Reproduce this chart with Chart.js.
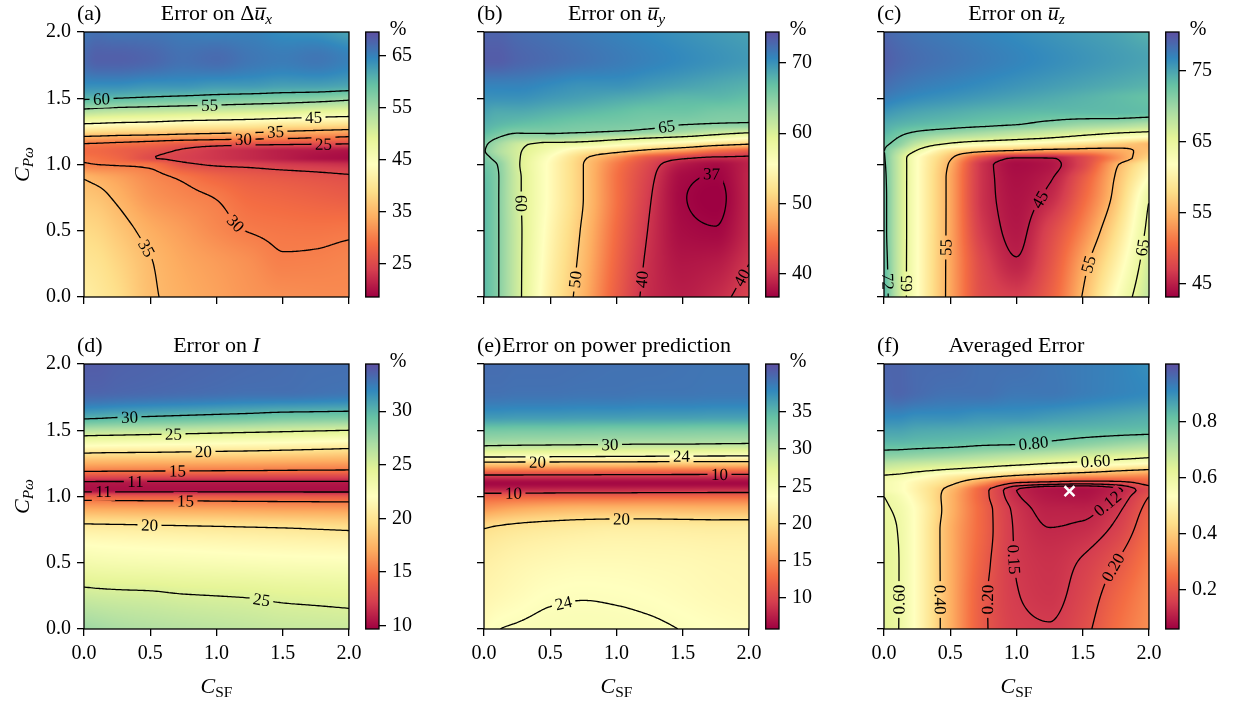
<!DOCTYPE html>
<html>
<head>
<meta charset="utf-8">
<script src="https://cdn.jsdelivr.net/npm/chart.js@4.4.1/dist/chart.umd.min.js"></script>
<style>
  html, body { margin: 0; padding: 0; background: #fff; }
  body { width: 1235px; height: 704px; position: relative; overflow: hidden; }
  canvas { position: absolute; }
</style>
</head>
<body>
<script>
// grid where the error maps were read (C_SF across, C_Pw up)
const xGrid = [0, 0.1, 0.25, 0.5, 0.75, 1.0, 1.25, 1.5, 1.75, 2.0];
const yGrid = [0, 0.25, 0.5, 0.75, 0.9, 1.0, 1.05, 1.1, 1.15, 1.2, 1.25, 1.3, 1.4, 1.5, 1.6, 1.8, 2.0];
const axisTicks = [0, 0.5, 1.0, 1.5, 2.0];

// (a) error on delta u_x, one row per yGrid value
const errUx = [
  [41.5, 40.5, 39, 35.5, 34, 33, 32, 31.5, 31.2, 31],
  [40, 39.5, 38, 35.2, 33.5, 32.5, 31.5, 30.3, 30.4, 30.7],
  [38.5, 38, 36.5, 34, 32.5, 31, 29.9, 29.5, 29.4, 29.6],
  [36.5, 36, 34.5, 32, 30.8, 29.9, 28.5, 28, 27.5, 27],
  [34.8, 34, 33, 31, 29.6, 28, 27, 26.5, 26, 25.5],
  [30.3, 30, 29.7, 29.2, 25.8, 24.6, 24.2, 23.5, 23, 22.5],
  [29.5, 29, 28, 25.2, 24, 23, 22, 21, 20, 19.5],
  [28.5, 28.3, 27.5, 26, 24.5, 23, 22, 21, 20.5, 20],
  [29.6, 29.4, 29, 28, 26.5, 25.8, 25.3, 25, 24.7, 24.5],
  [33.7, 33.5, 33, 32.5, 32, 31.5, 31, 30.5, 29.8, 29.1],
  [39.5, 39, 38.5, 38, 37, 36.5, 36, 35, 34.3, 33.6],
  [44.3, 44, 43.5, 43, 42, 41.5, 41, 40, 39.5, 38.8],
  [53.5, 53, 52.5, 52, 51.5, 51, 50.5, 50, 49, 48.4],
  [60.5, 60.3, 60, 59.5, 59, 58.5, 58, 57.5, 57, 56],
  [64, 64, 64, 63.5, 63.5, 63, 63, 62.5, 62.5, 62],
  [67, 68, 68, 67.5, 66.5, 67, 66, 65.5, 66, 65],
  [66, 66.5, 66, 66, 65.5, 65, 65, 64, 63.5, 62]
];
// (b) error on u_y
const errUy = [
  [67.5, 65.3, 61, 53.5, 48.5, 43, 39.3, 38.5, 39.3, 41],
  [67.5, 65.3, 61, 54, 49, 43.5, 39.5, 38, 38.3, 40],
  [67.5, 65.3, 61, 54.5, 49.5, 44, 39.8, 37.4, 37.1, 39.2],
  [67.5, 65.3, 60.8, 55, 50, 44.5, 40.2, 37.1, 36.6, 39],
  [67.2, 65.3, 60.8, 55, 50, 44.5, 40.6, 37.3, 36.9, 39],
  [66.5, 65, 60.5, 55, 50, 45, 41.2, 38.2, 37.4, 38.8],
  [66, 64, 60.5, 55.5, 50.5, 46.5, 42.5, 40.5, 39.5, 39.5],
  [65.2, 63, 60.5, 57, 53, 51, 48.5, 46.5, 44, 42.5],
  [65.5, 63.5, 61, 58.5, 58, 56.3, 54.5, 53, 51, 49.5],
  [66.5, 65, 63.5, 63.5, 62.3, 61.2, 60, 59, 57.5, 55.6],
  [67.5, 66.5, 65.5, 65.5, 65.3, 65, 64.5, 63.5, 62, 61],
  [68, 67.5, 67, 66.5, 66, 65.8, 65.5, 65, 64.8, 64.7],
  [69, 68.5, 68.5, 68, 67.5, 67, 66.5, 66.5, 66, 65.8],
  [70, 70, 70, 69.5, 69, 68.5, 68, 67.5, 67.5, 67],
  [71, 71, 71, 70.5, 70, 70, 69.5, 69, 68.5, 68],
  [73.5, 73.5, 73, 72.5, 72, 71.5, 71, 70.5, 70, 69.5],
  [73, 73, 72.5, 72, 71.5, 71, 70.5, 70, 69.5, 69]
];
// (c) error on u_z
const errUz = [
  [74, 68, 62, 54, 48, 47, 49.5, 55.2, 62, 68],
  [73.5, 68, 62, 54, 47.5, 45.2, 48.5, 54, 60, 67],
  [73, 68, 62, 54, 46.5, 44.5, 47.5, 52, 58, 66],
  [73, 68, 62, 54, 46, 44.2, 45.5, 50, 56, 64.8],
  [72.8, 68, 62, 54, 46, 44, 44.8, 49, 55.3, 62],
  [72.5, 68, 62, 54.5, 46, 43.8, 44.3, 47.5, 54.5, 60],
  [72.3, 68, 62, 55.5, 48, 44.8, 44.9, 47.5, 52.5, 57.5],
  [72.1, 69, 64.5, 58, 55.5, 54, 53, 53, 54, 56],
  [72.5, 71, 67.5, 64, 62, 61, 59.5, 58, 56.5, 55.2],
  [73.2, 72, 70, 68, 67, 66, 65, 63.5, 62, 60.5],
  [74, 73, 72, 71, 70, 69, 68, 67, 66, 65.2],
  [74.5, 74, 73.5, 73, 72.5, 72, 71, 70, 69.5, 68.5],
  [76, 75.5, 75, 74.5, 74, 73.7, 73.5, 73.5, 73.5, 73.3],
  [77.5, 77, 76.5, 76, 75.5, 75, 74.5, 74, 73.5, 73],
  [78.5, 78, 77.5, 77, 76.5, 76, 75.5, 75, 74.5, 74],
  [79.5, 79, 78.5, 78, 77.5, 77, 76.5, 76, 75.5, 75],
  [79, 78.5, 78, 77.5, 77, 76.5, 76, 75.5, 75, 74]
];
// (d) error on I
const errI = [
  [27.5, 27.3, 27, 26.7, 26.5, 26.3, 26.1, 25.9, 25.8, 25.7],
  [25.6, 25.5, 25.4, 25.3, 25.1, 25.0, 24.9, 24.7, 24.6, 24.5],
  [23.2, 23.1, 23.0, 22.9, 22.8, 22.7, 22.6, 22.5, 22.45, 22.4],
  [20.8, 20.75, 20.7, 20.6, 20.5, 20.4, 20.3, 20.2, 20.05, 19.9],
  [17.2, 17.15, 17.1, 17.0, 16.95, 16.9, 16.8, 16.7, 16.65, 16.6],
  [13.8, 13.8, 13.75, 13.7, 13.7, 13.65, 13.6, 13.6, 13.55, 13.5],
  [10.3, 10.3, 10.3, 10.3, 10.3, 10.3, 10.3, 10.3, 10.3, 10.3],
  [10.6, 10.6, 10.6, 10.6, 10.6, 10.6, 10.6, 10.6, 10.6, 10.6],
  [13.0, 12.95, 12.9, 12.85, 12.8, 12.75, 12.7, 12.65, 12.6, 12.6],
  [15.5, 15.45, 15.4, 15.35, 15.3, 15.25, 15.2, 15.1, 15.05, 15.0],
  [17.2, 17.15, 17.1, 17.0, 16.95, 16.9, 16.8, 16.7, 16.6, 16.5],
  [19.0, 18.9, 18.85, 18.8, 18.7, 18.6, 18.5, 18.3, 18.15, 18.0],
  [22.8, 22.7, 22.6, 22.45, 22.3, 22.1, 21.95, 21.8, 21.55, 21.3],
  [26.6, 26.5, 26.4, 26.2, 26.0, 25.8, 25.6, 25.4, 25.2, 25.0],
  [30.4, 30.3, 30.1, 29.9, 29.7, 29.5, 29.3, 29.0, 28.9, 28.8],
  [33.5, 33.5, 33.4, 33.3, 33.2, 33.1, 33.0, 33.0, 32.9, 32.8],
  [33.8, 33.8, 33.6, 33.5, 33.4, 33.3, 33.2, 33.1, 33.0, 33.0]
];
// (e) error on power prediction
const errPower = [
  [23.3, 23.95, 24.2, 24.5, 24.6, 24.5, 24.3, 23.95, 23.6, 23.3],
  [22.5, 22.8, 23.2, 23.75, 23.9, 23.8, 23.6, 23.3, 23.0, 22.8],
  [21.8, 22.1, 22.5, 22.9, 23.1, 23.1, 23.0, 22.9, 22.7, 22.6],
  [20.1, 20.5, 20.9, 21.3, 21.6, 21.8, 21.8, 21.7, 21.6, 21.6],
  [15.5, 16.0, 16.6, 17.2, 17.5, 17.5, 17.5, 17.4, 17.3, 17.3],
  [12.0, 12.0, 12.1, 12.2, 12.3, 12.3, 12.4, 12.4, 12.5, 12.5],
  [8.0, 8.0, 8.1, 8.2, 8.3, 8.3, 8.4, 8.4, 8.5, 8.5],
  [6.3, 6.3, 6.3, 6.3, 6.3, 6.3, 6.3, 6.3, 6.3, 6.3],
  [9.0, 9.0, 9.0, 8.9, 8.9, 8.8, 8.8, 8.7, 8.7, 8.6],
  [13.8, 13.8, 13.7, 13.7, 13.6, 13.6, 13.5, 13.5, 13.4, 13.3],
  [19.0, 19.0, 18.9, 18.9, 18.8, 18.8, 18.7, 18.7, 18.6, 18.6],
  [24.2, 24.2, 24.1, 24.0, 23.9, 23.8, 23.7, 23.6, 23.55, 23.5],
  [30.8, 30.7, 30.6, 30.5, 30.4, 30.3, 30.2, 30.2, 30.1, 30.0],
  [33.5, 33.5, 33.4, 33.4, 33.3, 33.2, 33.2, 33.1, 33.0, 33.0],
  [36.8, 36.8, 36.7, 36.7, 36.6, 36.6, 36.5, 36.5, 36.4, 36.4],
  [39.3, 39.3, 39.2, 39.2, 39.1, 39.1, 39.0, 39.0, 38.9, 38.9],
  [39.5, 39.5, 39.4, 39.4, 39.3, 39.2, 39.2, 39.1, 39.0, 39.0]
];
// (f) averaged error
const errAvg = [
  [0.64, 0.605, 0.52, 0.35, 0.21, 0.16, 0.153, 0.185, 0.25, 0.30],
  [0.63, 0.605, 0.52, 0.35, 0.21, 0.152, 0.14, 0.17, 0.23, 0.29],
  [0.63, 0.605, 0.52, 0.35, 0.22, 0.148, 0.135, 0.155, 0.20, 0.27],
  [0.62, 0.6, 0.52, 0.35, 0.23, 0.145, 0.121, 0.127, 0.16, 0.24],
  [0.61, 0.59, 0.52, 0.36, 0.23, 0.14, 0.11, 0.11, 0.14, 0.22],
  [0.6, 0.57, 0.5, 0.36, 0.22, 0.125, 0.095, 0.09, 0.12, 0.2],
  [0.57, 0.55, 0.49, 0.37, 0.22, 0.12, 0.09, 0.085, 0.11, 0.18],
  [0.57, 0.55, 0.5, 0.42, 0.3, 0.19, 0.17, 0.16, 0.17, 0.22],
  [0.59, 0.58, 0.55, 0.48, 0.43, 0.37, 0.33, 0.3, 0.29, 0.28],
  [0.65, 0.64, 0.62, 0.59, 0.56, 0.52, 0.49, 0.46, 0.42, 0.39],
  [0.70, 0.69, 0.68, 0.665, 0.645, 0.625, 0.6, 0.58, 0.555, 0.53],
  [0.76, 0.755, 0.745, 0.73, 0.71, 0.69, 0.67, 0.65, 0.63, 0.61],
  [0.83, 0.83, 0.825, 0.82, 0.81, 0.805, 0.79, 0.77, 0.75, 0.73],
  [0.87, 0.87, 0.86, 0.855, 0.85, 0.84, 0.835, 0.83, 0.825, 0.82],
  [0.91, 0.91, 0.9, 0.9, 0.89, 0.89, 0.88, 0.87, 0.86, 0.85],
  [0.96, 0.97, 0.96, 0.95, 0.95, 0.94, 0.94, 0.93, 0.92, 0.91],
  [0.97, 0.97, 0.96, 0.96, 0.95, 0.95, 0.94, 0.93, 0.92, 0.9]
];

// contour levels drawn on each map
const levelsUx = [25, 30, 35, 45, 55, 60];
const levelsUy = [37, 40, 50, 60, 65];
const levelsUz = [45, 55, 65, 72];
const levelsI = [11, 15, 20, 25, 30];
const levelsPower = [10, 20, 24, 30];
const levelsAvg = [0.12, 0.15, 0.20, 0.40, 0.60, 0.80];

// colour bar limits and ticks
const rangeUx = [18.6, 69.5], cbTicksUx = [25, 35, 45, 55, 65];
const rangeUy = [36.7, 74.4], cbTicksUy = [40, 50, 60, 70];
const rangeUz = [43.1, 80.5], cbTicksUz = [45, 55, 65, 75];
const rangeI = [9.7, 34.4], cbTicksI = [10, 15, 20, 25, 30];
const rangePower = [5.85, 41.4], cbTicksPower = [10, 15, 20, 25, 30, 35];
const rangeAvg = [0.06, 1.006], cbTicksAvg = [0.2, 0.4, 0.6, 0.8];

// best setting marked on (f)
const optimum = [1.4, 1.04];

const FONT = "'Liberation Serif', 'Times New Roman', serif";
const SPECTRAL = ['#9e0142', '#d53e4f', '#f46d43', '#fdae61', '#fee08b', '#ffffbf',
  '#e6f598', '#abdda4', '#66c2a5', '#3288bd', '#5e4fa2'];
const stopRGB = SPECTRAL.map(h => [1, 3, 5].map(k => parseInt(h.slice(k, k + 2), 16)));

function cmap(t) {
  t = Math.min(1, Math.max(0, t)) * (stopRGB.length - 1);
  const i = Math.min(stopRGB.length - 2, Math.floor(t));
  const f = t - i, a = stopRGB[i], b = stopRGB[i + 1];
  return [a[0] + (b[0] - a[0]) * f, a[1] + (b[1] - a[1]) * f, a[2] + (b[2] - a[2]) * f];
}

function cellIndex(arr, v) {
  let i = 0;
  while (i < arr.length - 2 && v > arr[i + 1]) i++;
  return i;
}

// shape-preserving cubic (pchip) slopes, used only to shade between the read values
function pchipSlopes(xs, ys) {
  const n = xs.length, h = [], d = [], m = new Array(n);
  for (let k = 0; k < n - 1; k++) { h[k] = xs[k + 1] - xs[k]; d[k] = (ys[k + 1] - ys[k]) / h[k]; }
  m[0] = d[0]; m[n - 1] = d[n - 2];
  for (let k = 1; k < n - 1; k++) {
    if (d[k - 1] * d[k] <= 0) m[k] = 0;
    else {
      const w1 = 2 * h[k] + h[k - 1], w2 = h[k] + 2 * h[k - 1];
      m[k] = (w1 + w2) / (w1 / d[k - 1] + w2 / d[k]);
    }
  }
  return m;
}

function hermite(xs, ys, m, x) {
  const k = cellIndex(xs, x), h = xs[k + 1] - xs[k];
  const t = Math.min(1, Math.max(0, (x - xs[k]) / h)), t2 = t * t, t3 = t2 * t;
  return (2 * t3 - 3 * t2 + 1) * ys[k] + (t3 - 2 * t2 + t) * h * m[k]
    + (-2 * t3 + 3 * t2) * ys[k + 1] + (t3 - t2) * h * m[k + 1];
}

// marching squares on the pixel field
function marching(vals, W, H, lev, L, T) {
  const st = 2, out = [];
  for (let j = 0; j + st < H; j += st) {
    for (let i = 0; i + st < W; i += st) {
      const v0 = vals[j * W + i], v1 = vals[j * W + i + st];
      const v2 = vals[(j + st) * W + i + st], v3 = vals[(j + st) * W + i];
      const x0 = L + i + 0.5, y0 = T + j + 0.5, x1 = x0 + st, y1 = y0 + st;
      const pts = [];
      const edge = (va, vb, xa, ya, xb, yb) => {
        if ((va < lev) !== (vb < lev)) {
          const t = (lev - va) / (vb - va);
          pts.push(xa + (xb - xa) * t, ya + (yb - ya) * t);
        }
      };
      edge(v0, v1, x0, y0, x1, y0);
      edge(v1, v2, x1, y0, x1, y1);
      edge(v2, v3, x1, y1, x0, y1);
      edge(v3, v0, x0, y1, x0, y0);
      if (pts.length >= 4) out.push(pts.slice(0, 4));
      if (pts.length === 8) out.push(pts.slice(4, 8));
    }
  }
  return out;
}

function rich(ctx, parts, x, y, size, align) {
  const fontOf = pt => `${pt.it ? 'italic ' : ''}${pt.sub ? size * 0.7 : size}px ${FONT}`;
  let total = 0;
  const ws = parts.map(pt => { ctx.font = fontOf(pt); const w = ctx.measureText(pt.t).width; total += w; return w; });
  let cx = align === 'center' ? x - total / 2 : x;
  ctx.textAlign = 'left';
  parts.forEach((pt, k) => {
    ctx.font = fontOf(pt);
    ctx.fillText(pt.t, cx, y + (pt.sub ? size * 0.2 : 0));
    if (pt.bar) ctx.fillRect(cx + 1.5, y - size * 0.56, ws[k] - 0.5, 1.2);
    cx += ws[k];
  });
}

const PLOT = 265, colLeft = [84, 484, 884], rowTop = [32, 364];
const yLabel = [{ t: 'C', it: 1 }, { t: 'Pω', it: 1, sub: 1 }];
const xLabel = [{ t: 'C', it: 1 }, { t: 'SF', sub: 1 }];

const panels = [
  { grid: errUx, levels: levelsUx, range: rangeUx, cbTicks: cbTicksUx, unit: '%', tag: '(a)', col: 0, row: 0,
    title: [{ t: 'Error on Δ' }, { t: 'u', it: 1, bar: 1 }, { t: 'x', it: 1, sub: 1 }],
    labels: [[60, 0.13, 1.5], [55, 0.95, 1.45], [45, 1.74, 1.34], [35, 1.45, 1.245], [30, 1.2, 1.185],
      [25, 1.81, 1.155], [30, 1.16, 0.57], [35, 0.47, 0.37]] },
  { grid: errUy, levels: levelsUy, range: rangeUy, cbTicks: cbTicksUy, unit: '%', tag: '(b)', col: 1, row: 0,
    title: [{ t: 'Error on ' }, { t: 'u', it: 1, bar: 1 }, { t: 'y', it: 1, sub: 1 }],
    labels: [[65, 1.38, 1.29], [60, 0.30, 0.71], [50, 0.69, 0.13], [40, 1.19, 0.13], [37, 1.71, 0.93], [40, 1.94, 0.15]] },
  { grid: errUz, levels: levelsUz, range: rangeUz, cbTicks: cbTicksUz, unit: '%', tag: '(c)', col: 2, row: 0,
    title: [{ t: 'Error on ' }, { t: 'u', it: 1, bar: 1 }, { t: 'z', it: 1, sub: 1 }],
    labels: [[72, 0.03, 0.12], [65, 0.17, 0.10], [55, 0.45, 0.38], [45, 1.15, 0.745], [55, 1.53, 0.25], [65, 1.87, 0.38]] },
  { grid: errI, levels: levelsI, range: rangeI, cbTicks: cbTicksI, unit: '%', tag: '(d)', col: 0, row: 1,
    title: [{ t: 'Error on ' }, { t: 'I', it: 1 }],
    labels: [[30, 0.35, 1.6], [25, 0.67, 1.47], [20, 0.9, 1.34], [15, 0.71, 1.19], [11, 0.385, 1.11],
      [11, 0.146, 1.03], [15, 0.76, 0.96], [20, 0.5, 0.78], [25, 1.34, 0.2]] },
  { grid: errPower, levels: levelsPower, range: rangePower, cbTicks: cbTicksPower, unit: '%', tag: '(e)', col: 1, row: 1,
    title: [{ t: 'Error on power prediction' }],
    labels: [[30, 0.95, 1.39], [24, 1.49, 1.31], [20, 0.40, 1.265], [10, 1.78, 1.165], [10, 0.22, 1.03],
      [20, 1.04, 0.835], [24, 0.6, 0.2]] },
  { grid: errAvg, levels: levelsAvg, range: rangeAvg, cbTicks: cbTicksAvg, unit: '', tag: '(f)', col: 2, row: 1,
    title: [{ t: 'Averaged Error' }], decimals: 2, marker: optimum,
    labels: [[0.8, 1.13, 1.41], [0.6, 1.6, 1.295], [0.12, 1.67, 0.96], [0.15, 1.01, 0.52], [0.2, 1.67, 0.5],
      [0.6, 0.13, 0.22], [0.4, 0.45, 0.22], [0.2, 0.83, 0.22]] }
];

function makeCanvas(left, top, w, h) {
  const c = document.createElement('canvas');
  c.width = w; c.height = h;
  c.style.left = left + 'px'; c.style.top = top + 'px';
  c.style.width = w + 'px'; c.style.height = h + 'px';
  document.body.appendChild(c);
  return c;
}

function drawField(chart, p) {
  const ctx = chart.ctx, ca = chart.chartArea, xs = chart.scales.x, ys = chart.scales.y;
  const L = Math.round(ca.left), T = Math.round(ca.top);
  const W = Math.round(ca.right) - L, H = Math.round(ca.bottom) - T;
  const [lo, hi] = p.range;
  const rowSlopes = p.grid.map(row => pchipSlopes(xGrid, row));
  const yv = [];
  for (let j = 0; j < H; j++) yv.push(ys.getValueForPixel(T + j + 0.5));
  const vals = new Float32Array(W * H);
  for (let i = 0; i < W; i++) {
    const xv = xs.getValueForPixel(L + i + 0.5);
    const col = p.grid.map((row, r) => hermite(xGrid, row, rowSlopes[r], xv));
    const cm = pchipSlopes(yGrid, col);
    for (let j = 0; j < H; j++) vals[j * W + i] = hermite(yGrid, col, cm, yv[j]);
  }
  const off = document.createElement('canvas');
  off.width = W; off.height = H;
  const octx = off.getContext('2d');
  const img = octx.createImageData(W, H);
  for (let n = 0; n < W * H; n++) {
    const c = cmap((vals[n] - lo) / (hi - lo)), k = n * 4;
    img.data[k] = c[0]; img.data[k + 1] = c[1]; img.data[k + 2] = c[2]; img.data[k + 3] = 255;
  }
  octx.putImageData(img, 0, 0);
  ctx.drawImage(off, L, T);

  const segsByLevel = p.levels.map(lev => marching(vals, W, H, lev, L, T));
  const fs = 17;
  ctx.font = `${fs}px ${FONT}`;
  const placed = [];
  p.labels.forEach(([lev, hx, hy]) => {
    const segs = segsByLevel[p.levels.indexOf(lev)];
    if (!segs || !segs.length) return;
    const px = xs.getPixelForValue(hx), py = ys.getPixelForValue(hy);
    let best = null, bd = Infinity;
    segs.forEach(s => {
      const mx = (s[0] + s[2]) / 2, my = (s[1] + s[3]) / 2;
      const d = (mx - px) ** 2 + (my - py) ** 2;
      if (d < bd) { bd = d; best = [mx, my]; }
    });
    let C = 0, S = 0;
    segs.forEach(s => {
      const mx = (s[0] + s[2]) / 2, my = (s[1] + s[3]) / 2;
      if ((mx - best[0]) ** 2 + (my - best[1]) ** 2 < 144) {
        const dx = s[2] - s[0], dy = s[3] - s[1], l = Math.hypot(dx, dy);
        if (l > 0) { const a = Math.atan2(dy, dx); C += Math.cos(2 * a) * l; S += Math.sin(2 * a) * l; }
      }
    });
    const text = p.decimals ? lev.toFixed(p.decimals) : String(lev);
    placed.push({ x: best[0], y: best[1], ang: 0.5 * Math.atan2(S, C), text, w: ctx.measureText(text).width });
  });

  ctx.save();
  ctx.beginPath();
  ctx.rect(L, T, W, H);
  placed.forEach(lb => {
    const c = Math.cos(lb.ang), s = Math.sin(lb.ang), hw = lb.w / 2 + 3.5, hh = 9;
    const pts = [[-hw, -hh], [hw, -hh], [hw, hh], [-hw, hh]].map(([a, b]) => [lb.x + a * c - b * s, lb.y + a * s + b * c]);
    ctx.moveTo(pts[0][0], pts[0][1]);
    for (let k = 1; k < 4; k++) ctx.lineTo(pts[k][0], pts[k][1]);
    ctx.closePath();
  });
  ctx.clip('evenodd');
  ctx.beginPath();
  segsByLevel.forEach(segs => segs.forEach(s => { ctx.moveTo(s[0], s[1]); ctx.lineTo(s[2], s[3]); }));
  ctx.strokeStyle = '#000';
  ctx.lineWidth = 1.3;
  ctx.lineCap = 'round';
  ctx.stroke();
  ctx.restore();

  ctx.save();
  ctx.fillStyle = '#000';
  ctx.textAlign = 'center';
  ctx.textBaseline = 'alphabetic';
  ctx.font = `${fs}px ${FONT}`;
  placed.forEach(lb => {
    ctx.save();
    ctx.translate(lb.x, lb.y);
    ctx.rotate(lb.ang);
    ctx.fillText(lb.text, 0, fs * 0.33);
    ctx.restore();
  });
  ctx.restore();
}

function drawFrame(chart, p) {
  const ctx = chart.ctx, ca = chart.chartArea;
  ctx.save();
  ctx.strokeStyle = '#000';
  ctx.lineWidth = 1.3;
  ctx.strokeRect(ca.left, ca.top, ca.right - ca.left, ca.bottom - ca.top);
  ctx.fillStyle = '#000';
  ctx.textBaseline = 'alphabetic';
  ctx.textAlign = 'left';
  ctx.font = `22px ${FONT}`;
  ctx.fillText(p.tag, ca.left - 7, 20);
  rich(ctx, p.title, (ca.left + ca.right) / 2, 20, 22, 'center');
  if (p.col === 0) {
    ctx.save();
    ctx.translate(29, (ca.top + ca.bottom) / 2);
    ctx.rotate(-Math.PI / 2);
    rich(ctx, yLabel, 0, 0, 22, 'center');
    ctx.restore();
  }
  if (p.row === 1) rich(ctx, xLabel, (ca.left + ca.right) / 2, ca.bottom + 64, 22, 'center');
  ctx.restore();
}

const tickFont = { family: FONT, size: 20 };

// fixed axis sizes; the edge label padding would otherwise shrink the plot
function fixSize(dim, size) {
  return s => {
    s[dim] = size;
    s.paddingLeft = 0; s.paddingRight = 0; s.paddingTop = 0; s.paddingBottom = 0;
  };
}

panels.forEach(p => {
  const left = colLeft[p.col], top = rowTop[p.row];
  const bottomPad = p.row === 1 ? 80 : 12;
  const rightPad = 16;
  const cv = makeCanvas(left - 84, top - 32, 84 + PLOT + rightPad, 32 + PLOT + bottomPad);
  const axis = (show, fitFn) => ({
    type: 'linear', min: 0, max: 2,
    afterFit: fitFn,
    afterBuildTicks: s => { s.ticks = axisTicks.map(v => ({ value: v })); },
    grid: { drawOnChartArea: false, drawTicks: true, tickLength: 7, color: '#000', lineWidth: 1.3 },
    border: { display: false },
    ticks: { display: show, font: tickFont, color: '#000', padding: 6, maxRotation: 0, autoSkip: false,
      callback: v => Number(v).toFixed(1) }
  });
  new Chart(cv, {
    type: 'scatter',
    data: {
      datasets: [{
        data: p.marker ? [{ x: p.marker[0], y: p.marker[1] }] : [],
        pointStyle: 'crossRot', pointRadius: 7, pointHoverRadius: 7,
        borderColor: '#fff', backgroundColor: '#fff', borderWidth: 2.5
      }]
    },
    options: {
      responsive: false, animation: false, devicePixelRatio: 1,
      layout: { padding: { top: 32, right: rightPad, left: 0, bottom: 0 }, autoPadding: false },
      plugins: { legend: { display: false }, tooltip: { enabled: false } },
      scales: {
        x: axis(p.row === 1, fixSize('height', bottomPad)),
        y: axis(p.col === 0, fixSize('width', 84))
      }
    },
    plugins: [{
      id: 'fieldMap',
      beforeDraw: chart => drawField(chart, p),
      afterDraw: chart => drawFrame(chart, p)
    }]
  });

  // colour bar
  const cbW = 75, cbPadL = 6.7, cbBar = 13.3;
  const cb = makeCanvas(left + 275, top - 32, cbW, 32 + PLOT + 12);
  new Chart(cb, {
    type: 'scatter',
    data: { datasets: [{ data: [] }] },
    options: {
      responsive: false, animation: false, devicePixelRatio: 1,
      layout: { padding: { top: 32, left: cbPadL, bottom: 12, right: 0 }, autoPadding: false },
      plugins: { legend: { display: false }, tooltip: { enabled: false } },
      scales: {
        x: { display: false, min: 0, max: 1 },
        y: {
          position: 'right', min: p.range[0], max: p.range[1],
          afterFit: fixSize('width', cbW - cbPadL - cbBar),
          afterBuildTicks: s => { s.ticks = p.cbTicks.map(v => ({ value: v })); },
          grid: { drawOnChartArea: false, drawTicks: true, tickLength: 7, color: '#000', lineWidth: 1.3 },
          border: { display: false },
          ticks: { font: tickFont, color: '#000', padding: 6, autoSkip: false,
            callback: v => (p.decimals ? Number(v).toFixed(1) : String(v)) }
        }
      }
    },
    plugins: [{
      id: 'colourBar',
      beforeDraw: chart => {
        const ctx = chart.ctx, ca = chart.chartArea, ys = chart.scales.y;
        const T = Math.round(ca.top), B = Math.round(ca.bottom);
        for (let j = T; j < B; j++) {
          const v = ys.getValueForPixel(j + 0.5);
          const c = cmap((v - p.range[0]) / (p.range[1] - p.range[0]));
          ctx.fillStyle = `rgb(${c[0] | 0},${c[1] | 0},${c[2] | 0})`;
          ctx.fillRect(ca.left, j, ca.right - ca.left, 1);
        }
      },
      afterDraw: chart => {
        const ctx = chart.ctx, ca = chart.chartArea;
        ctx.save();
        ctx.strokeStyle = '#000';
        ctx.lineWidth = 1.3;
        ctx.strokeRect(ca.left, ca.top, ca.right - ca.left, ca.bottom - ca.top);
        if (p.unit) {
          ctx.fillStyle = '#000';
          ctx.font = `20px ${FONT}`;
          ctx.textAlign = 'center';
          ctx.textBaseline = 'alphabetic';
          ctx.fillText(p.unit, ca.right + 19, ca.top + 3);
        }
        ctx.restore();
      }
    }]
  });
});
</script>
</body>
</html>
